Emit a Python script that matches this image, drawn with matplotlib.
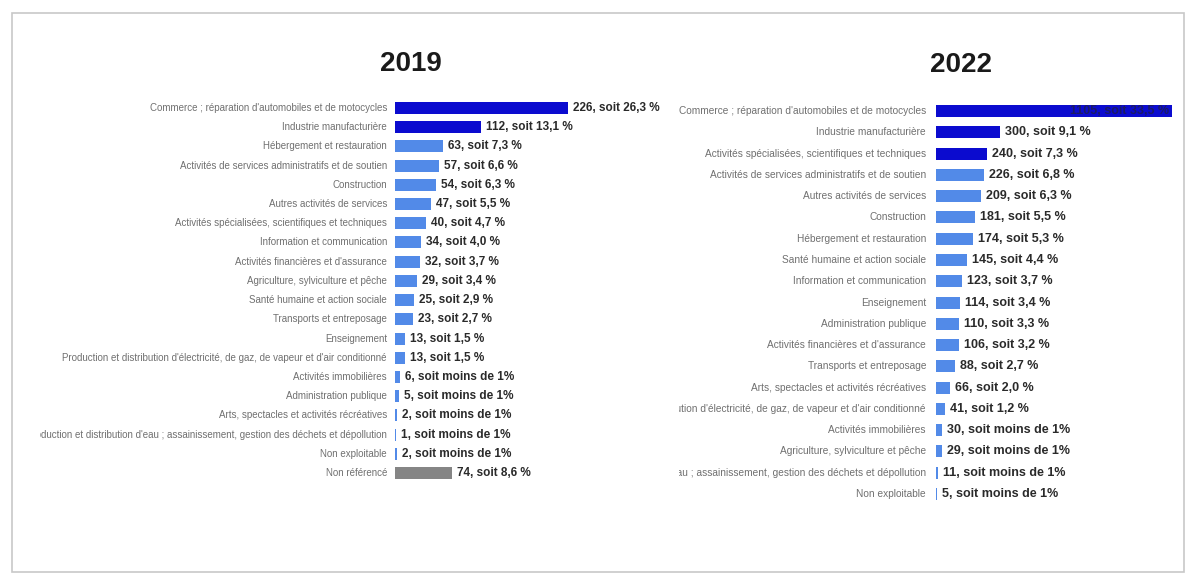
import matplotlib.pyplot as plt
from matplotlib.transforms import Bbox, TransformedBbox, offset_copy
from matplotlib.patches import Rectangle

plt.rcParams['font.family'] = ['Liberation Sans', 'DejaVu Sans']

# données 2019
cat_2019 = ["Commerce ; réparation d'automobiles et de motocycles",
            "Industrie manufacturière",
            "Hébergement et restauration",
            "Activités de services administratifs et de soutien",
            "Construction",
            "Autres activités de services",
            "Activités spécialisées, scientifiques et techniques",
            "Information et communication",
            "Activités financières et d'assurance",
            "Agriculture, sylviculture et pêche",
            "Santé humaine et action sociale",
            "Transports et entreposage",
            "Enseignement",
            "Production et distribution d'électricité, de gaz, de vapeur et d'air conditionné",
            "Activités immobilières",
            "Administration publique",
            "Arts, spectacles et activités récréatives",
            "Production et distribution d'eau ; assainissement, gestion des déchets et dépollution",
            "Non exploitable",
            "Non référencé"]
val_2019 = [226, 112, 63, 57, 54, 47, 40, 34, 32, 29, 25, 23, 13, 13, 6, 5, 2, 1, 2, 74]
pct_2019 = [26.3, 13.1, 7.3, 6.6, 6.3, 5.5, 4.7, 4.0, 3.7, 3.4, 2.9, 2.7, 1.5, 1.5,
            None, None, None, None, None, 8.6]

# données 2022
cat_2022 = ["Commerce ; réparation d'automobiles et de motocycles",
            "Industrie manufacturière",
            "Activités spécialisées, scientifiques et techniques",
            "Activités de services administratifs et de soutien",
            "Autres activités de services",
            "Construction",
            "Hébergement et restauration",
            "Santé humaine et action sociale",
            "Information et communication",
            "Enseignement",
            "Administration publique",
            "Activités financières et d'assurance",
            "Transports et entreposage",
            "Arts, spectacles et activités récréatives",
            "Production et distribution d'électricité, de gaz, de vapeur et d'air conditionné",
            "Activités immobilières",
            "Agriculture, sylviculture et pêche",
            "Production et distribution d'eau ; assainissement, gestion des déchets et dépollution",
            "Non exploitable"]
val_2022 = [1105, 300, 240, 226, 209, 181, 174, 145, 123, 114, 110, 106, 88, 66, 41, 30, 29, 11, 5]
pct_2022 = [33.5, 9.1, 7.3, 6.8, 6.3, 5.5, 5.3, 4.4, 3.7, 3.4, 3.3, 3.2, 2.7, 2.0, 1.2,
            None, None, None, None]

n_top_2019 = 2
n_top_2022 = 3

W, H = 1187, 577
DARK = '#0b0bcf'
LIGHT = '#528ae8'
GREY = '#858585'

fig = plt.figure(figsize=(W / 100, H / 100), dpi=100)

# cadre
fig.patches.append(Rectangle((12 / W, 5 / H), 1172 / W, 559 / H, transform=fig.transFigure,
                             fill=False, edgecolor='#c8c8c8', linewidth=1.2))


def fmt(v, p):
    if p is None:
        return "{}, soit moins de 1%".format(v)
    return "{}, soit {:.1f} %".format(v, p).replace('.', ',')


def panel(title, cats, vals, pcts, n_top, x0, px_per_unit, y_first, y_last, right_px,
          clip_left, title_xy, lab_fs, val_fs, lab_gap, inside_first=False):
    n = len(cats)
    step = (y_last - y_first) / (n - 1)
    top = y_first - step / 2
    bottom = y_last + step / 2
    ax = fig.add_axes([x0 / W, 1 - bottom / H, (right_px - x0) / W, (bottom - top) / H])
    ax.set_xlim(0, (right_px - x0) / px_per_unit)
    ax.set_ylim(n - 0.5, -0.5)
    ax.axis('off')

    colors = []
    for i, c in enumerate(cats):
        if i < n_top:
            colors.append(DARK)
        elif c == "Non référencé":
            colors.append(GREY)
        else:
            colors.append(LIGHT)
    ax.barh(range(n), vals, height=12 / step, color=colors)

    clip = TransformedBbox(Bbox.from_extents(clip_left / W, 0, 1, 1), fig.transFigure)
    lab_tr = offset_copy(ax.transData, fig=fig, x=-lab_gap, y=0, units='dots')
    val_tr = offset_copy(ax.transData, fig=fig, x=5, y=0, units='dots')
    in_tr = offset_copy(ax.transData, fig=fig, x=-3, y=0, units='dots')
    for i in range(n):
        t = ax.text(0, i, cats[i], transform=lab_tr, ha='right', va='center',
                    fontsize=lab_fs, color='#707070', clip_on=True)
        t.set_clip_box(clip)
        if inside_first and i == 0:
            ax.text(vals[i], i, fmt(vals[i], pcts[i]), transform=in_tr, ha='right',
                    va='center', fontsize=val_fs, fontweight='bold', color='#1a1a66',
                    clip_on=False)
        else:
            ax.text(vals[i], i, fmt(vals[i], pcts[i]), transform=val_tr, ha='left',
                    va='center', fontsize=val_fs, fontweight='bold', color='#2a2a2a',
                    clip_on=False)

    fig.text(title_xy[0] / W, 1 - title_xy[1] / H, title, ha='center', va='center',
             fontsize=20, fontweight='bold', color='#1a1a1a')


panel("2019", cat_2019, val_2019, pct_2019, n_top_2019, 395, 0.766, 108, 473, 665,
      40, (411, 64), 7.0, 8.5, 8)
panel("2022", cat_2022, val_2022, pct_2022, n_top_2022, 936, 0.2135, 111, 494, 1172,
      679, (961, 65), 7.3, 9.0, 10, inside_first=True)

fig.savefig('out.png', dpi=100, facecolor='white')
